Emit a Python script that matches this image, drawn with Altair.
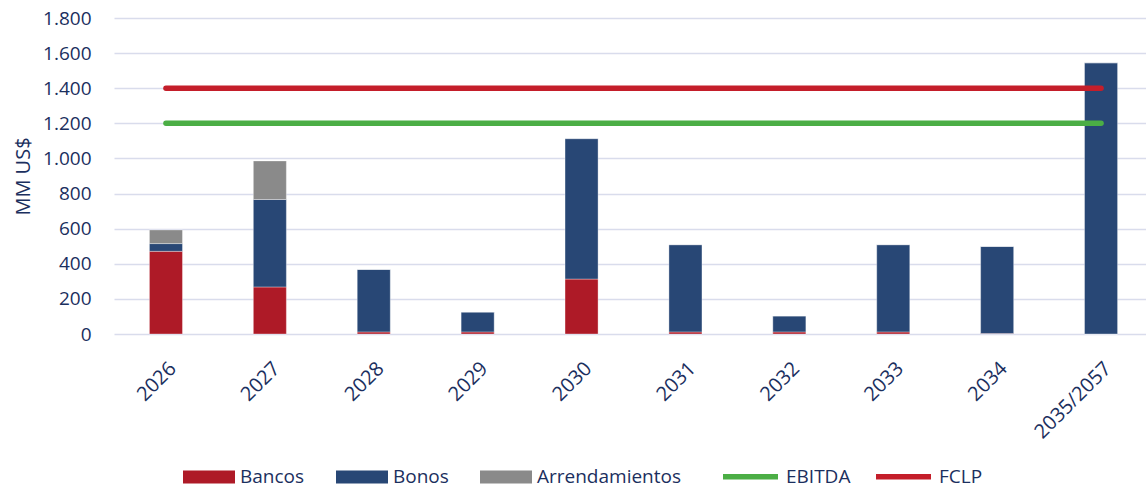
import altair as alt
import pandas as pd

# ---- data ----
years = ["2026", "2027", "2028", "2029", "2030", "2031", "2032", "2033", "2034", "2035/2057"]
bancos = [471, 268, 12, 12, 313, 12, 12, 12, 3, 0]
bonos = [44, 498, 356, 113, 800, 497, 91, 497, 496, 1545]
arrendamientos = [78, 220, 0, 0, 0, 0, 0, 0, 0, 0]
ebitda = 1200
fclp = 1400

bar_series = ["Bancos", "Bonos", "Arrendamientos"]
bar_colors = ["#AE1A27", "#284775", "#8A8A8A"]
line_series = ["EBITDA", "FCLP"]
line_colors = ["#4BAE45", "#C41E2A"]
y_ticks = [0, 200, 400, 600, 800, 1000, 1200, 1400, 1600, 1800]

rows = []
for i, y in enumerate(years):
    for k, (name, vals) in enumerate(zip(bar_series, [bancos, bonos, arrendamientos])):
        rows.append({"year": y, "serie": name, "valor": vals[i], "orden": k})
bars_df = pd.DataFrame(rows)

line_rows = []
for name, v in zip(line_series, [ebitda, fclp]):
    for y in [years[0], years[-1]]:
        line_rows.append({"year": y, "serie": name, "valor": v})
lines_df = pd.DataFrame(line_rows)

NAVY = "#1B2F5E"
FONT = "Open Sans"

x_scale = alt.Scale(domain=years, paddingInner=0.682, paddingOuter=0.341, range=[0, 1039])
x_axis = alt.Axis(
    title=None, labelAngle=-45, labelFontSize=20, labelColor=NAVY, labelFont=FONT,
    ticks=False, domain=False, labelPadding=24, grid=False,
)
y_scale = alt.Scale(domain=[0, 1800], nice=False, zero=True)
y_axis = alt.Axis(
    title="MM US$", values=y_ticks, tickCount=10, titleFontSize=20, titleFontWeight="normal",
    titleColor=NAVY, titleFont=FONT, titlePadding=9,
    labelFontSize=19, labelColor=NAVY, labelFont=FONT, labelPadding=23,
    labelOverlap=False, labelBound=False, labelFlush=False,
    labelExpr="replace(format(datum.value, ',d'), ',', '.')",
    ticks=False, domain=False, grid=True, gridColor="#D9DCEC", gridWidth=1.5,
)

bars = alt.Chart(bars_df).mark_bar(stroke="#ffffff", strokeWidth=1, strokeOpacity=0.35).encode(
    x=alt.X("year:N", sort=years, scale=x_scale, axis=x_axis),
    y=alt.Y("valor:Q", stack="zero", scale=y_scale, axis=y_axis),
    color=alt.Color(
        "serie:N",
        scale=alt.Scale(domain=bar_series, range=bar_colors),
        legend=alt.Legend(
            title=None, orient="none", legendX=69, legendY=433, direction="horizontal",
            symbolType="M-1,-0.25H1V0.25H-1Z", symbolSize=2704, symbolStrokeWidth=0,
            labelFontSize=19, labelColor=NAVY, labelFont=FONT, labelOffset=5,
            columnPadding=31, columns=3,
        ),
    ),
    order=alt.Order("orden:Q", sort="ascending"),
)

lines = alt.Chart(lines_df).mark_line(strokeWidth=5.5, strokeCap="round").encode(
    x=alt.X("year:N", sort=years, scale=x_scale, axis=x_axis),
    y=alt.Y("valor:Q", stack=None, scale=y_scale, axis=y_axis),
    stroke=alt.Stroke(
        "serie:N",
        scale=alt.Scale(domain=line_series, range=line_colors),
        legend=alt.Legend(
            title=None, orient="none", legendX=606, legendY=428, direction="horizontal",
            symbolType="stroke", symbolSize=3025, symbolStrokeWidth=5.5,
            labelFontSize=19, labelColor=NAVY, labelFont=FONT, labelOffset=5,
            columnPadding=14, columns=2,
        ),
    ),
    detail="serie:N",
)

chart = (
    alt.layer(bars, lines)
    .properties(
        width=1032,
        height=316,
        autosize=alt.AutoSizeParams(type="none"),
        padding={"left": 114, "top": 18, "right": 0, "bottom": 155},
        background="white",
    )
    .configure_view(stroke=None)
)

chart.save("out.html", embed_options={"renderer": "svg", "actions": False})
